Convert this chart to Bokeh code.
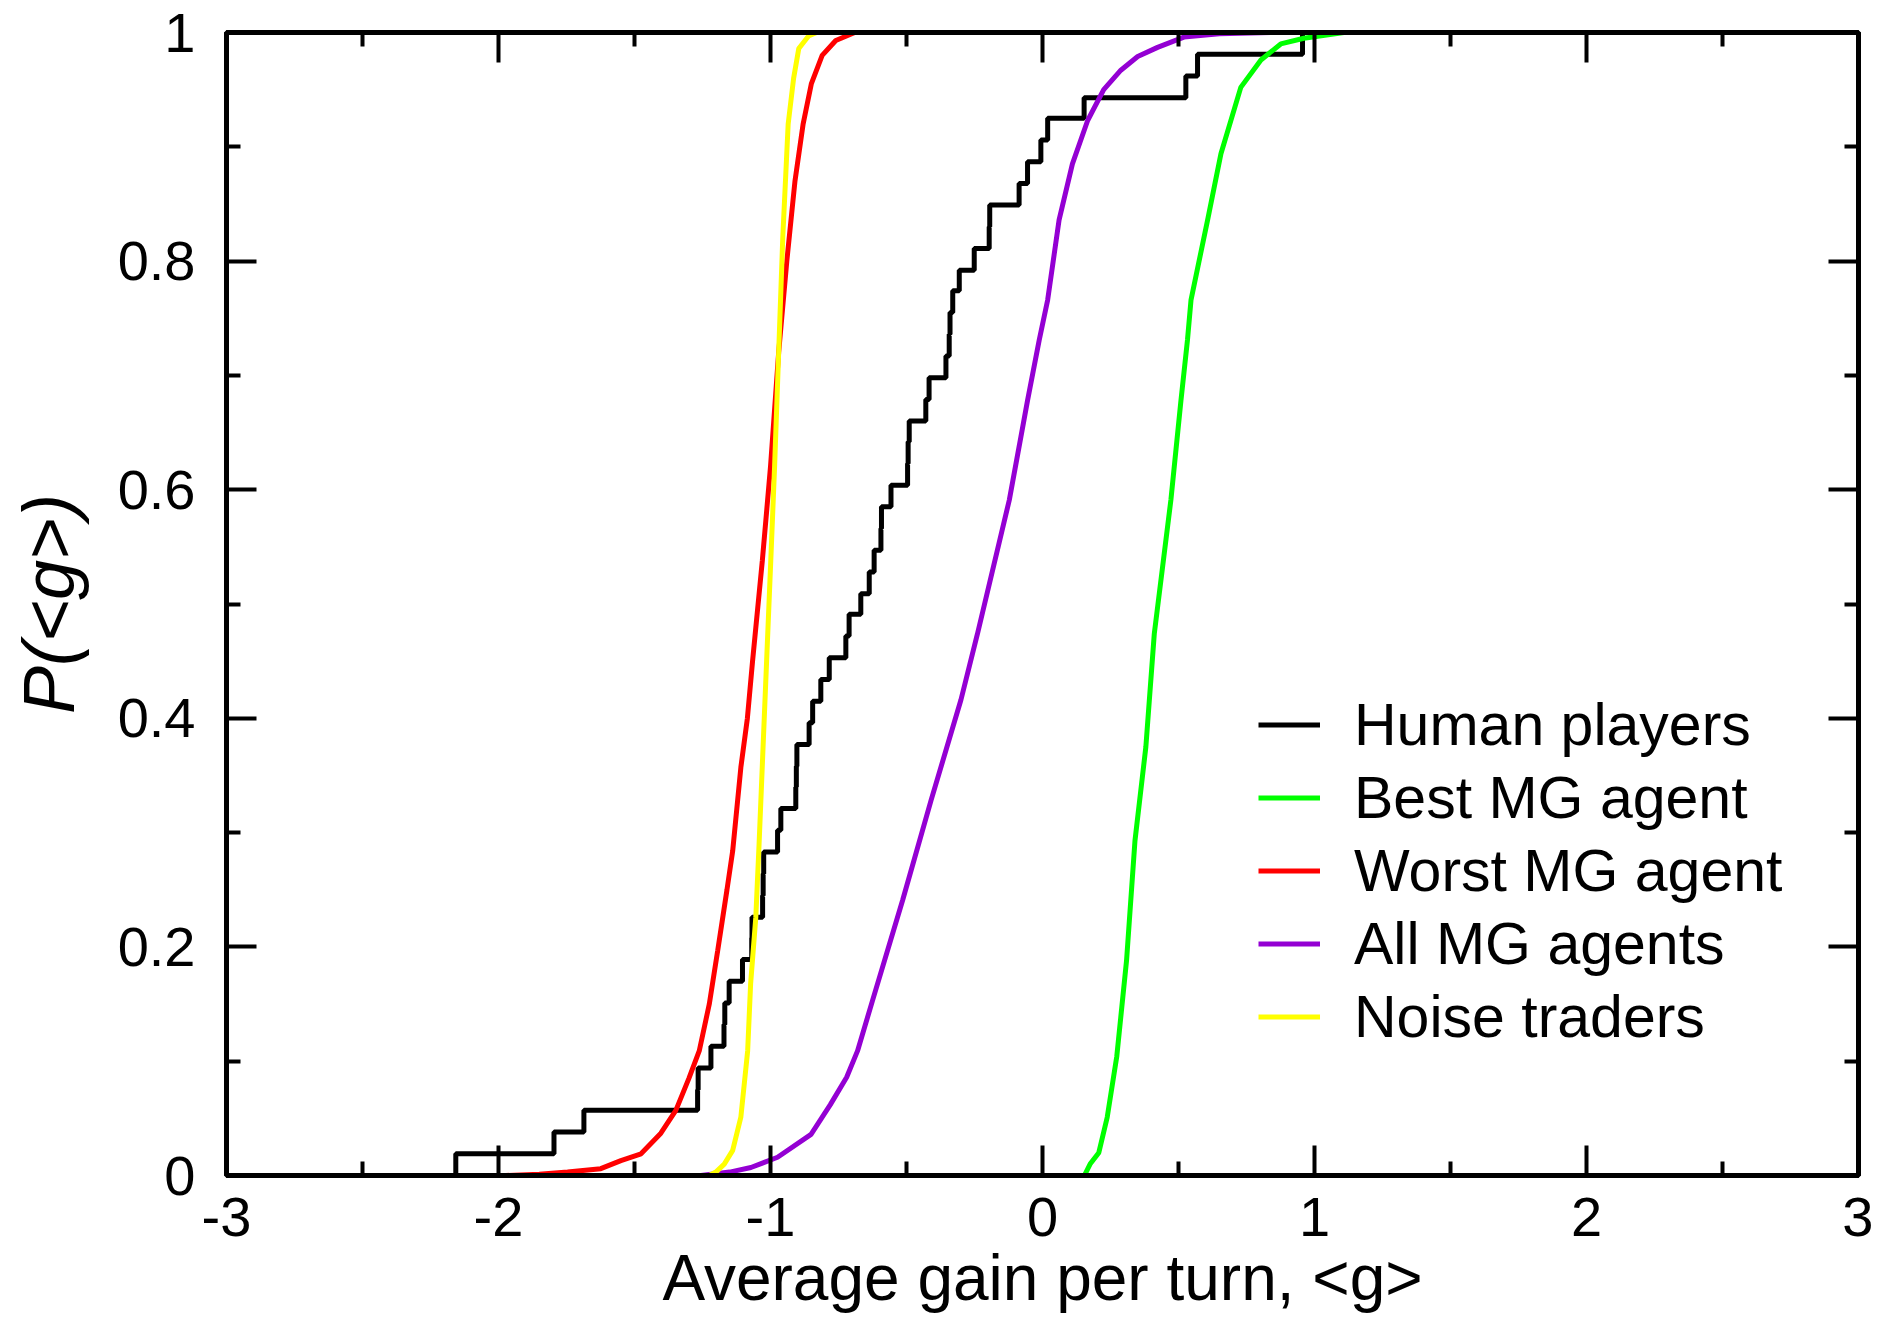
from bokeh.plotting import figure
from bokeh.models import Range1d, LinearAxis, FixedTicker, Legend, LegendItem
from bokeh.embed import file_html
from bokeh.resources import INLINE

# ---------------- data ----------------
x_ticks = [-3, -2, -1, 0, 1, 2, 3]
x_tick_labels = ["-3", "-2", "-1", "0", "1", "2", "3"]
x_minor = [-2.5, -1.5, -0.5, 0.5, 1.5, 2.5]
y_ticks = [0, 0.2, 0.4, 0.6, 0.8, 1.0]
y_tick_labels = ["0", "0.2", "0.4", "0.6", "0.8", "1"]
y_minor = [0.1, 0.3, 0.5, 0.7, 0.9]

x_title = "Average gain per turn, <g>"
y_title = "P(<g>)"
series_names = ["Human players", "Best MG agent", "Worst MG agent", "All MG agents", "Noise traders"]

# Human players: empirical CDF (jump positions and level after each jump)
human_x = [-2.157, -2.157, -1.796, -1.686, -1.268, -1.266, -1.219, -1.171, -1.168, -1.152,
           -1.103, -1.069, -1.068, -1.029, -1.027, -1.025, -0.974, -0.962, -0.907, -0.905,
           -0.903, -0.858, -0.845, -0.815, -0.784, -0.723, -0.711, -0.668, -0.637, -0.619,
           -0.594, -0.592, -0.557, -0.496, -0.494, -0.490, -0.429, -0.417, -0.355, -0.343,
           -0.340, -0.330, -0.306, -0.251, -0.196, -0.194, -0.086, -0.055, -0.006, 0.019,
           0.153, 0.527, 0.570, 0.956]
human_y = [0.000, 0.019, 0.038, 0.057, 0.075, 0.094, 0.113, 0.132, 0.151, 0.170,
           0.189, 0.208, 0.226, 0.245, 0.264, 0.283, 0.302, 0.321, 0.340, 0.358,
           0.377, 0.396, 0.415, 0.434, 0.453, 0.472, 0.491, 0.509, 0.528, 0.547,
           0.566, 0.585, 0.604, 0.623, 0.642, 0.660, 0.679, 0.698, 0.717, 0.736,
           0.755, 0.774, 0.792, 0.811, 0.830, 0.849, 0.868, 0.887, 0.906, 0.925,
           0.943, 0.962, 0.981, 1.000]

best_x = [0.154, 0.175, 0.207, 0.238, 0.273, 0.309, 0.340, 0.380, 0.411, 0.472,
          0.509, 0.533, 0.546, 0.607, 0.656, 0.729, 0.803, 0.876, 0.961, 1.108]
best_y = [0.000, 0.010, 0.020, 0.051, 0.104, 0.188, 0.293, 0.375, 0.474, 0.591,
          0.678, 0.731, 0.766, 0.836, 0.894, 0.952, 0.976, 0.990, 0.995, 1.000]

worst_x = [-1.973, -1.850, -1.746, -1.624, -1.550, -1.476, -1.403, -1.348, -1.300, -1.262,
           -1.225, -1.194, -1.160, -1.139, -1.109, -1.085, -1.066, -1.030, -1.000, -0.970,
           -0.940, -0.910, -0.880, -0.850, -0.810, -0.760, -0.690]
worst_y = [0.000, 0.001, 0.003, 0.006, 0.013, 0.019, 0.037, 0.057, 0.085, 0.109,
           0.150, 0.197, 0.250, 0.284, 0.357, 0.400, 0.450, 0.538, 0.620, 0.720,
           0.800, 0.870, 0.920, 0.955, 0.980, 0.993, 1.000]

all_x = [-1.256, -1.150, -1.072, -0.974, -0.851, -0.780, -0.720, -0.680, -0.625, -0.514,
         -0.410, -0.300, -0.239, -0.122, -0.055, -0.012, 0.019, 0.061, 0.110, 0.166,
         0.225, 0.288, 0.350, 0.423, 0.520, 0.650, 0.840]
all_y = [0.000, 0.003, 0.007, 0.016, 0.036, 0.062, 0.086, 0.109, 0.153, 0.241,
         0.328, 0.416, 0.474, 0.591, 0.678, 0.731, 0.766, 0.836, 0.885, 0.923,
         0.950, 0.967, 0.979, 0.987, 0.996, 0.999, 1.000]

noise_x = [-1.225, -1.201, -1.170, -1.139, -1.109, -1.084, -1.073, -1.054, -1.042, -1.023,
           -0.999, -0.985, -0.970, -0.955, -0.935, -0.915, -0.896, -0.860, -0.830]
noise_y = [0.000, 0.003, 0.010, 0.022, 0.051, 0.109, 0.168, 0.226, 0.290, 0.400,
           0.538, 0.620, 0.720, 0.820, 0.920, 0.960, 0.986, 0.997, 1.000]

colors = ["#000000", "#00ff00", "#ff0000", "#9400d3", "#ffff00"]

# ---------------- figure ----------------
FONT = "Liberation Sans"
p = figure(width=1873, height=1320, x_range=Range1d(-3, 3), y_range=Range1d(0, 1),
           output_backend="svg", toolbar_location=None,
           min_border_left=226, min_border_right=15, min_border_top=32, min_border_bottom=145)
p.grid.visible = False
p.outline_line_color = "black"
p.outline_line_width = 5
p.background_fill_color = "white"
p.border_fill_color = "white"

def style_axis(ax, ticks, minor, labels, show_labels):
    ax.ticker = FixedTicker(ticks=ticks, minor_ticks=minor)
    ax.axis_line_width = 5
    ax.axis_line_color = "black"
    ax.major_tick_in = 30
    ax.major_tick_out = 0
    ax.minor_tick_in = 14
    ax.minor_tick_out = 0
    ax.major_tick_line_width = 4
    ax.minor_tick_line_width = 4
    ax.major_tick_line_color = "black"
    ax.minor_tick_line_color = "black"
    if show_labels:
        ax.major_label_overrides = {t: l for t, l in zip(ticks, labels)}
        ax.major_label_text_font = FONT
        ax.major_label_text_font_size = "56px"
        ax.major_label_text_color = "black"
    else:
        ax.major_label_overrides = {t: "" for t in ticks}
        ax.major_label_standoff = 0

xa = p.xaxis[0]
style_axis(xa, x_ticks, x_minor, x_tick_labels, True)
xa.major_label_standoff = 22
xa.axis_label = x_title
xa.axis_label_text_font = FONT
xa.axis_label_text_font_size = "64px"
xa.axis_label_text_font_style = "normal"
xa.axis_label_text_color = "black"
xa.axis_label_text_line_height = 1.0
xa.axis_label_standoff = 3

ya = p.yaxis[0]
style_axis(ya, y_ticks, y_minor, y_tick_labels, True)
ya.major_label_standoff = 31
ya.axis_label = y_title
ya.axis_label_text_font = FONT
ya.axis_label_text_font_size = "72px"
ya.axis_label_text_font_style = "italic"
ya.axis_label_text_color = "black"
ya.axis_label_standoff = 26

top = LinearAxis()
style_axis(top, x_ticks, x_minor, x_tick_labels, False)
p.add_layout(top, "above")
right = LinearAxis()
style_axis(right, y_ticks, y_minor, y_tick_labels, False)
p.add_layout(right, "right")

# ---------------- curves ----------------
LW = 5
r_h = p.step(human_x, human_y, mode="after", line_color=colors[0], line_width=LW)
r_b = p.line(best_x, best_y, line_color=colors[1], line_width=LW)
r_w = p.line(worst_x, worst_y, line_color=colors[2], line_width=LW)
r_a = p.line(all_x, all_y, line_color=colors[3], line_width=LW)
r_n = p.line(noise_x, noise_y, line_color=colors[4], line_width=LW)

legend = Legend(items=[LegendItem(label=n, renderers=[r]) for n, r in
                       zip(series_names, [r_h, r_b, r_w, r_a, r_n])],
                location=(1032, 122))
legend.border_line_color = None
legend.background_fill_alpha = 0
legend.padding = 0
legend.margin = 0
legend.spacing = 0
legend.glyph_width = 62
legend.glyph_height = 73
legend.label_height = 73
legend.label_standoff = 34
legend.label_text_font = FONT
legend.label_text_font_size = "59px"
legend.label_text_color = "black"
legend.label_text_baseline = "middle"
p.add_layout(legend, "center")

open("out.html", "w").write(file_html(p, INLINE))
